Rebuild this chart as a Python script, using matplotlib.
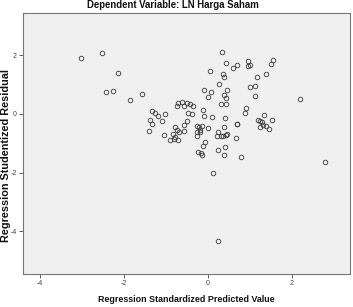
import matplotlib
matplotlib.use("Agg")
import matplotlib.pyplot as plt

pred = [-3.02, -2.53, -2.14, -2.42, -2.27, -1.58, -1.85, 0.34, 0.42, 0.05,
        0.59, 0.69, 0.95, 1.01, 0.96, 1.55, 1.50, 0.36, 0.39, 1.37,
        1.17, 0.26, 0.99, 1.13, -0.10, 0.07, 0.46, 0.38, 0.00, 0.43,
        1.11, 2.19, -0.74, -0.61, -0.51, -0.43, -0.35, -0.58, -0.72, 0.31,
        0.42, -0.47, -0.37, -0.12, -0.09, 0.10, 0.40, -1.32, -1.25, -1.18,
        -1.10, -1.01, -1.37, -1.33, -1.40, -1.04, -0.79, -0.73, -0.68, -0.83,
        -0.79, -0.90, -0.81, -0.72, -0.56, -0.56, -0.51, -0.27, -0.22, -0.15,
        -0.25, -0.20, -0.25, -0.18, 0.00, -0.11, -0.06, -0.24, -0.16, -0.15,
        0.24, 0.40, 0.39, 0.13, 0.25, 0.32, 0.35, 0.21, 0.42, 0.46,
        0.38, 0.68, 0.69, 0.67, 0.78, 0.87, 0.91, 1.33, 1.53, 1.19,
        1.24, 1.28, 1.32, 1.39, 1.45, 1.25, 2.79, 0.25]
resid = [1.92, 2.08, 1.38, 0.75, 0.80, 0.67, 0.47, 2.11, 1.72, 1.48,
         1.56, 1.68, 1.82, 1.68, 1.63, 1.83, 1.70, 1.35, 1.26, 1.35,
         1.25, 1.01, 0.92, 0.97, 0.83, 0.74, 0.81, 0.65, 0.59, 0.55,
         0.60, 0.52, 0.27, 0.41, 0.37, 0.33, 0.27, 0.27, 0.37, 0.35,
         0.35, 0.05, 0.01, 0.14, -0.08, -0.10, -0.12, 0.10, 0.02, -0.07,
         -0.25, -0.01, -0.20, -0.34, -0.58, -0.73, -0.43, -0.53, -0.61, -0.67,
         -0.79, -0.90, -0.86, -0.90, -0.38, -0.57, -0.25, -0.41, -0.43, -0.40,
         -0.61, -0.62, -0.74, -0.56, -0.48, -1.08, -0.96, -1.29, -1.34, -1.38,
         -1.21, -1.13, -1.41, -2.00, -0.61, -0.74, -0.75, -0.74, -0.70, -0.67,
         -0.43, -0.35, -0.33, -0.83, -1.45, 0.05, 0.19, -0.04, -0.21, -0.19,
         -0.24, -0.28, -0.37, -0.41, -0.52, -0.46, -1.62, -4.31]

xticks = [-4, -2, 0, 2]
yticks = [2, 0, -2, -4]

title = "Dependent Variable: LN Harga Saham"
xlabel = "Regression Standardized Predicted Value"
ylabel = "Regression Studentized Residual"

plt.rcParams['font.family'] = ['Liberation Sans', 'DejaVu Sans']

W, H = 353, 307
fig = plt.figure(figsize=(W / 100, H / 100), dpi=100)
fig.patch.set_facecolor('white')
ax = fig.add_axes([23 / W, 1 - 274 / H, (350 - 23) / W, (274 - 12.7) / H])
ax.set_facecolor('#F0F0F0')

ax.plot(pred, resid, linestyle='none', marker='o', markersize=3.3,
        markerfacecolor='none', markeredgecolor='#3a3a3a', markeredgewidth=0.6)

ax.set_xlim(-4.40, 3.38)
ax.set_ylim(-5.45, 3.45)
ax.set_xticks(xticks)
ax.set_yticks(yticks)
ax.set_xticklabels([str(t) for t in xticks])
ax.set_yticklabels([str(t) for t in yticks])
ax.tick_params(axis='both', direction='out', length=3, width=0.6,
               colors='#444444', labelsize=5, pad=1.5)

for s in ax.spines.values():
    s.set_color('#777777')
    s.set_linewidth(0.8)

fig.text(172.5 / W, 1 - 5.0 / H, title, ha='center', va='center',
         fontsize=6.9, fontweight='bold', color='#111111')
fig.text(186.5 / W, 1 - 299 / H, xlabel, ha='center', va='center',
         fontsize=6.4, fontweight='bold', color='#111111')
fig.text(6.0 / W, 1 - 155 / H, ylabel, ha='center', va='center', rotation=90,
         fontsize=7.8, fontweight='bold', color='#111111')

fig.savefig('out.png', dpi=100, facecolor='white')
